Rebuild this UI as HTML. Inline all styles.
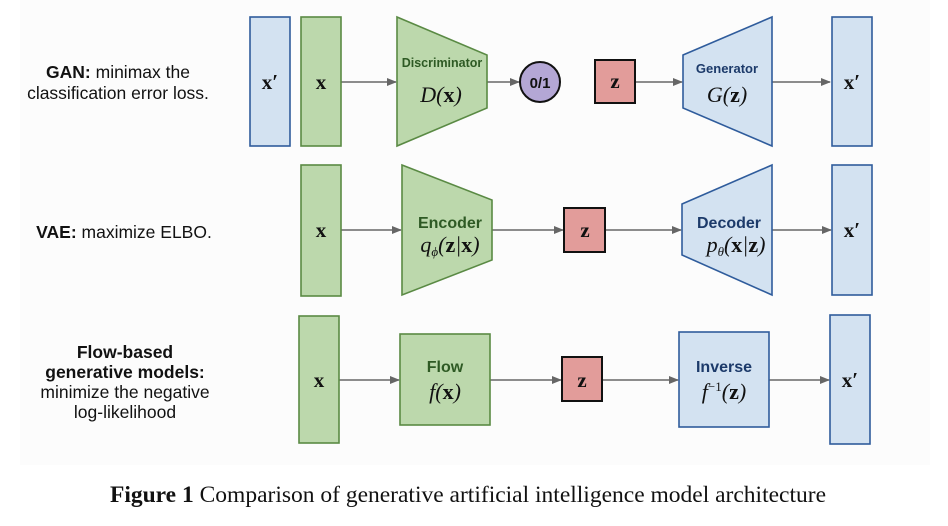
<!DOCTYPE html>
<html><head><meta charset="utf-8"><style>
body{margin:0;background:#fff;}
svg{display:block}
.l{font-family:"Liberation Sans",sans-serif;font-size:17.5px;fill:#111;text-anchor:middle}
.m{font-family:"Liberation Serif",serif;font-weight:bold;font-size:21px;fill:#111;text-anchor:middle}
.mi{font-family:"Liberation Serif",serif;font-style:italic;font-size:22px;fill:#111;text-anchor:middle}
.g{font-family:"Liberation Sans",sans-serif;font-weight:bold;font-size:16px;fill:#2e5a24;text-anchor:middle}
.b{font-family:"Liberation Sans",sans-serif;font-weight:bold;font-size:16px;fill:#1c3a6a;text-anchor:middle}
</style></head><body>
<svg width="948" height="526" viewBox="0 0 948 526" xmlns="http://www.w3.org/2000/svg">
<defs><marker id="a" markerWidth="10" markerHeight="8" refX="9" refY="4" orient="auto" markerUnits="userSpaceOnUse"><path d="M0,0 L10,4 L0,8 z" fill="#666"/></marker></defs>
<rect x="20" y="0" width="910" height="465" fill="#fcfcfc"/>
<g stroke="#666" stroke-width="1.6" marker-end="url(#a)">
<line x1="341" y1="82" x2="396" y2="82"/><line x1="487" y1="82" x2="519" y2="82"/>
<line x1="635" y1="82" x2="682" y2="82"/><line x1="772" y1="82" x2="830" y2="82"/>
<line x1="341" y1="230" x2="401" y2="230"/><line x1="492" y1="230" x2="563" y2="230"/>
<line x1="605" y1="230" x2="681" y2="230"/><line x1="772" y1="230" x2="831" y2="230"/>
<line x1="339" y1="380" x2="399" y2="380"/><line x1="490" y1="380" x2="561" y2="380"/>
<line x1="602" y1="380" x2="678" y2="380"/><line x1="769" y1="380" x2="829" y2="380"/>
</g>
<g stroke-width="1.6">
<rect x="250" y="17" width="40" height="129" fill="#d3e2f1" stroke="#2f5c9c"/>
<rect x="301" y="17" width="40" height="129" fill="#bcd8ac" stroke="#5a8a44"/>
<polygon points="397,17 487,55 487,108 397,146" fill="#bcd8ac" stroke="#5a8a44"/>
<circle cx="540" cy="82" r="20" fill="#b4a7d5" stroke="#111" stroke-width="2"/>
<rect x="595" y="60" width="40" height="43" fill="#e29c9a" stroke="#111" stroke-width="2"/>
<polygon points="683,55 772,17 772,146 683,108" fill="#d3e2f1" stroke="#2f5c9c"/>
<rect x="832" y="17" width="40" height="129" fill="#d3e2f1" stroke="#2f5c9c"/>

<rect x="301" y="165" width="40" height="131" fill="#bcd8ac" stroke="#5a8a44"/>
<polygon points="402,165 492,200 492,260 402,295" fill="#bcd8ac" stroke="#5a8a44"/>
<rect x="564" y="208" width="41" height="44" fill="#e29c9a" stroke="#111" stroke-width="2"/>
<polygon points="682,204 772,165 772,295 682,255" fill="#d3e2f1" stroke="#2f5c9c"/>
<rect x="832" y="165" width="40" height="130" fill="#d3e2f1" stroke="#2f5c9c"/>

<rect x="299" y="316" width="40" height="127" fill="#bcd8ac" stroke="#5a8a44"/>
<rect x="400" y="334" width="90" height="91" fill="#bcd8ac" stroke="#5a8a44"/>
<rect x="562" y="357" width="40" height="44" fill="#e29c9a" stroke="#111" stroke-width="2"/>
<rect x="679" y="332" width="90" height="95" fill="#d3e2f1" stroke="#2f5c9c"/>
<rect x="830" y="315" width="40" height="129" fill="#d3e2f1" stroke="#2f5c9c"/>
</g>
<text class="m" x="270" y="89">x′</text><text class="m" x="321" y="89">x</text>
<text x="442" y="67" font-family="Liberation Sans,sans-serif" font-weight="bold" font-size="12.5" fill="#2e5a24" text-anchor="middle">Discriminator</text>
<text class="mi" x="441" y="102">D(<tspan font-style="normal" font-weight="bold">x</tspan>)</text>
<text x="540" y="88" font-family="Liberation Sans,sans-serif" font-weight="bold" font-size="15" fill="#111" text-anchor="middle">0/1</text>
<text class="m" x="615" y="88">z</text>
<text x="727" y="73" font-family="Liberation Sans,sans-serif" font-weight="bold" font-size="13" fill="#1c3a6a" text-anchor="middle">Generator</text>
<text class="mi" x="727" y="102">G(<tspan font-style="normal" font-weight="bold">z</tspan>)</text>
<text class="m" x="852" y="89">x′</text>

<text class="m" x="321" y="237">x</text>
<text class="g" x="450" y="228">Encoder</text>
<text class="mi" x="450" y="252">q<tspan font-size="13" dy="4">ϕ</tspan><tspan dy="-4">(</tspan><tspan font-style="normal" font-weight="bold">z</tspan>|<tspan font-style="normal" font-weight="bold">x</tspan>)</text>
<text class="m" x="585" y="237">z</text>
<text class="b" x="729" y="228">Decoder</text>
<text class="mi" x="736" y="252">p<tspan font-size="13" dy="4">θ</tspan><tspan dy="-4">(</tspan><tspan font-style="normal" font-weight="bold">x</tspan>|<tspan font-style="normal" font-weight="bold">z</tspan>)</text>
<text class="m" x="852" y="237">x′</text>

<text class="m" x="319" y="387">x</text>
<text class="g" x="445" y="372">Flow</text>
<text class="mi" x="445" y="399">f(<tspan font-style="normal" font-weight="bold">x</tspan>)</text>
<text class="m" x="582" y="387">z</text>
<text class="b" x="724" y="372">Inverse</text>
<text class="mi" x="724" y="399">f<tspan font-size="13" dy="-8" font-style="normal">−1</tspan><tspan dy="8">(</tspan><tspan font-style="normal" font-weight="bold">z</tspan>)</text>
<text class="m" x="850" y="387">x′</text>

<text class="l" x="118" y="78"><tspan font-weight="bold">GAN:</tspan> minimax the</text>
<text class="l" x="118" y="99">classification error loss.</text>
<text class="l" x="124" y="238"><tspan font-weight="bold">VAE:</tspan> maximize ELBO.</text>
<text class="l" x="125" y="358" font-weight="bold">Flow-based</text>
<text class="l" x="125" y="378" font-weight="bold">generative models:</text>
<text class="l" x="125" y="398">minimize the negative</text>
<text class="l" x="125" y="418">log-likelihood</text>

<text x="468" y="502" font-family="Liberation Serif,serif" font-size="23.5" fill="#111" text-anchor="middle"><tspan font-weight="bold">Figure 1</tspan> Comparison of generative artificial intelligence model architecture</text>
</svg>
</body></html>
